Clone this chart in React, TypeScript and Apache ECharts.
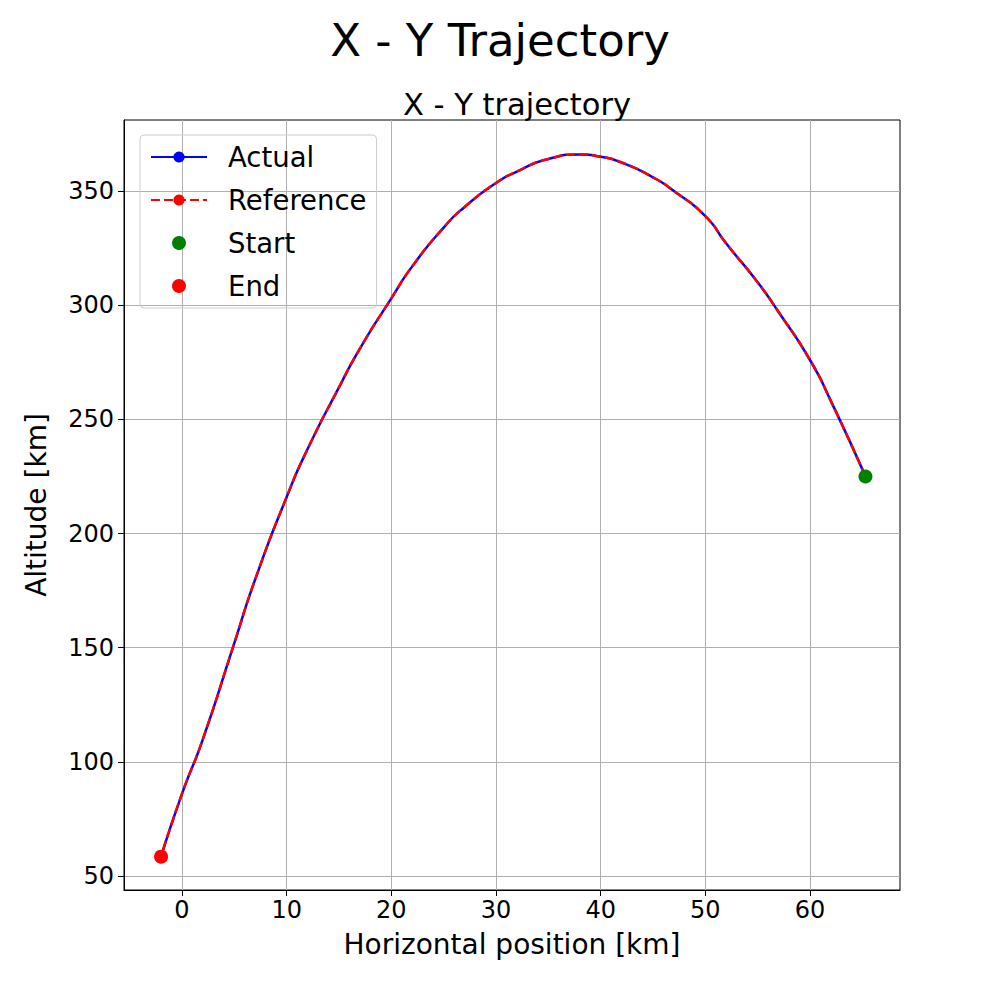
import React, { useEffect, useRef } from "react";
import * as echarts from "echarts";

const trajX = [65.3, 62, 60, 57, 55, 52, 50, 47, 45, 42, 40, 38, 35, 32, 30, 27, 25, 22, 20, 17, 15, 12, 10, 7, 5, 2, 0, -2];
const trajY = [225, 258, 276, 297, 310, 327, 339, 350, 356, 362.5, 365, 366, 364, 358.5, 353.5, 343, 334, 317, 303, 281, 264, 237, 216, 180, 152, 110, 86, 58.5];
const startPt = [65.3, 225];
const endPt = [-2, 58.5];
const xTicks = [0, 10, 20, 30, 40, 50, 60];
const yTicks = [50, 100, 150, 200, 250, 300, 350];

const App: React.FC = () => {
  const chartRef = useRef<HTMLDivElement>(null);

  useEffect(() => {
    if (!chartRef.current) return;
    const chart = echarts.init(chartRef.current, undefined, { renderer: "svg" });
    const pts = trajX.map((x, i) => [x, trajY[i]]);
    const font = "DejaVu Sans";

    const axisCommon = {
      axisLine: { show: true, onZero: false, lineStyle: { color: "#000", width: 1 } },
      axisTick: { show: true, inside: false, length: 6, lineStyle: { color: "#000" } },
      splitLine: { show: true, lineStyle: { color: "#b0b0b0", width: 1 } },
      nameLocation: "middle" as const,
      nameTextStyle: { fontSize: 28, color: "#000", fontFamily: font },
    };

    chart.setOption({
      animation: false,
      textStyle: { fontFamily: font },
      title: [
        { text: "X - Y Trajectory", left: "center", top: 13, textStyle: { fontSize: 45, fontWeight: "normal", color: "#000", fontFamily: font } },
        { text: "X - Y trajectory", left: 512, textAlign: "center", top: 84, textStyle: { fontSize: 30.5, fontWeight: "normal", color: "#000", fontFamily: font } },
      ],
      grid: { left: 124, right: 100, top: 120, bottom: 110, show: true, borderColor: "#000", borderWidth: 1, backgroundColor: "transparent" },
      legend: {
        orient: "vertical",
        left: 140,
        top: 135,
        padding: [8, 10, 8, 10],
        itemGap: 15,
        itemWidth: 56,
        itemHeight: 14,
        borderColor: "#cccccc",
        borderWidth: 1,
        borderRadius: 4,
        textStyle: { fontSize: 27.5, color: "#000", fontFamily: font, padding: [0, 0, 0, 16] },
        data: [
          { name: "Actual" },
          { name: "Reference" },
          { name: "Start", icon: "circle" },
          { name: "End", icon: "circle" },
        ],
      },
      xAxis: {
        ...axisCommon,
        type: "value",
        min: -5.54,
        max: 68.6,
        name: "Horizontal position [km]",
        nameGap: 40,
        axisTick: { ...axisCommon.axisTick, customValues: xTicks },
        axisLabel: { customValues: xTicks, fontSize: 24, color: "#000", margin: 8, fontFamily: font },
      },
      yAxis: {
        ...axisCommon,
        type: "value",
        min: 43.9,
        max: 381.1,
        name: "Altitude [km]",
        nameGap: 74,
        axisTick: { ...axisCommon.axisTick, customValues: yTicks },
        axisLabel: { customValues: yTicks, fontSize: 24, color: "#000", margin: 10, fontFamily: font },
      },
      series: [
        { name: "Actual", type: "line", data: pts, smooth: 0.6, symbol: "none", lineStyle: { color: "#0000ff", width: 2.5 }, itemStyle: { color: "#0000ff" } },
        { name: "Reference", type: "line", data: pts, smooth: 0.6, symbol: "none", lineStyle: { color: "#ff0000", width: 2.5, type: [9, 4] }, itemStyle: { color: "#ff0000" } },
        { name: "Start", type: "scatter", data: [startPt], symbolSize: 14, itemStyle: { color: "#008000", opacity: 1 }, z: 5 },
        { name: "End", type: "scatter", data: [endPt], symbolSize: 14, itemStyle: { color: "#ff0000", opacity: 1 }, z: 5 },
      ],
    });

    return () => chart.dispose();
  }, []);

  return <div ref={chartRef} style={{ position: "fixed", left: 0, top: 0, width: 1000, height: 1000, background: "#fff" }} />;
};

export default App;
